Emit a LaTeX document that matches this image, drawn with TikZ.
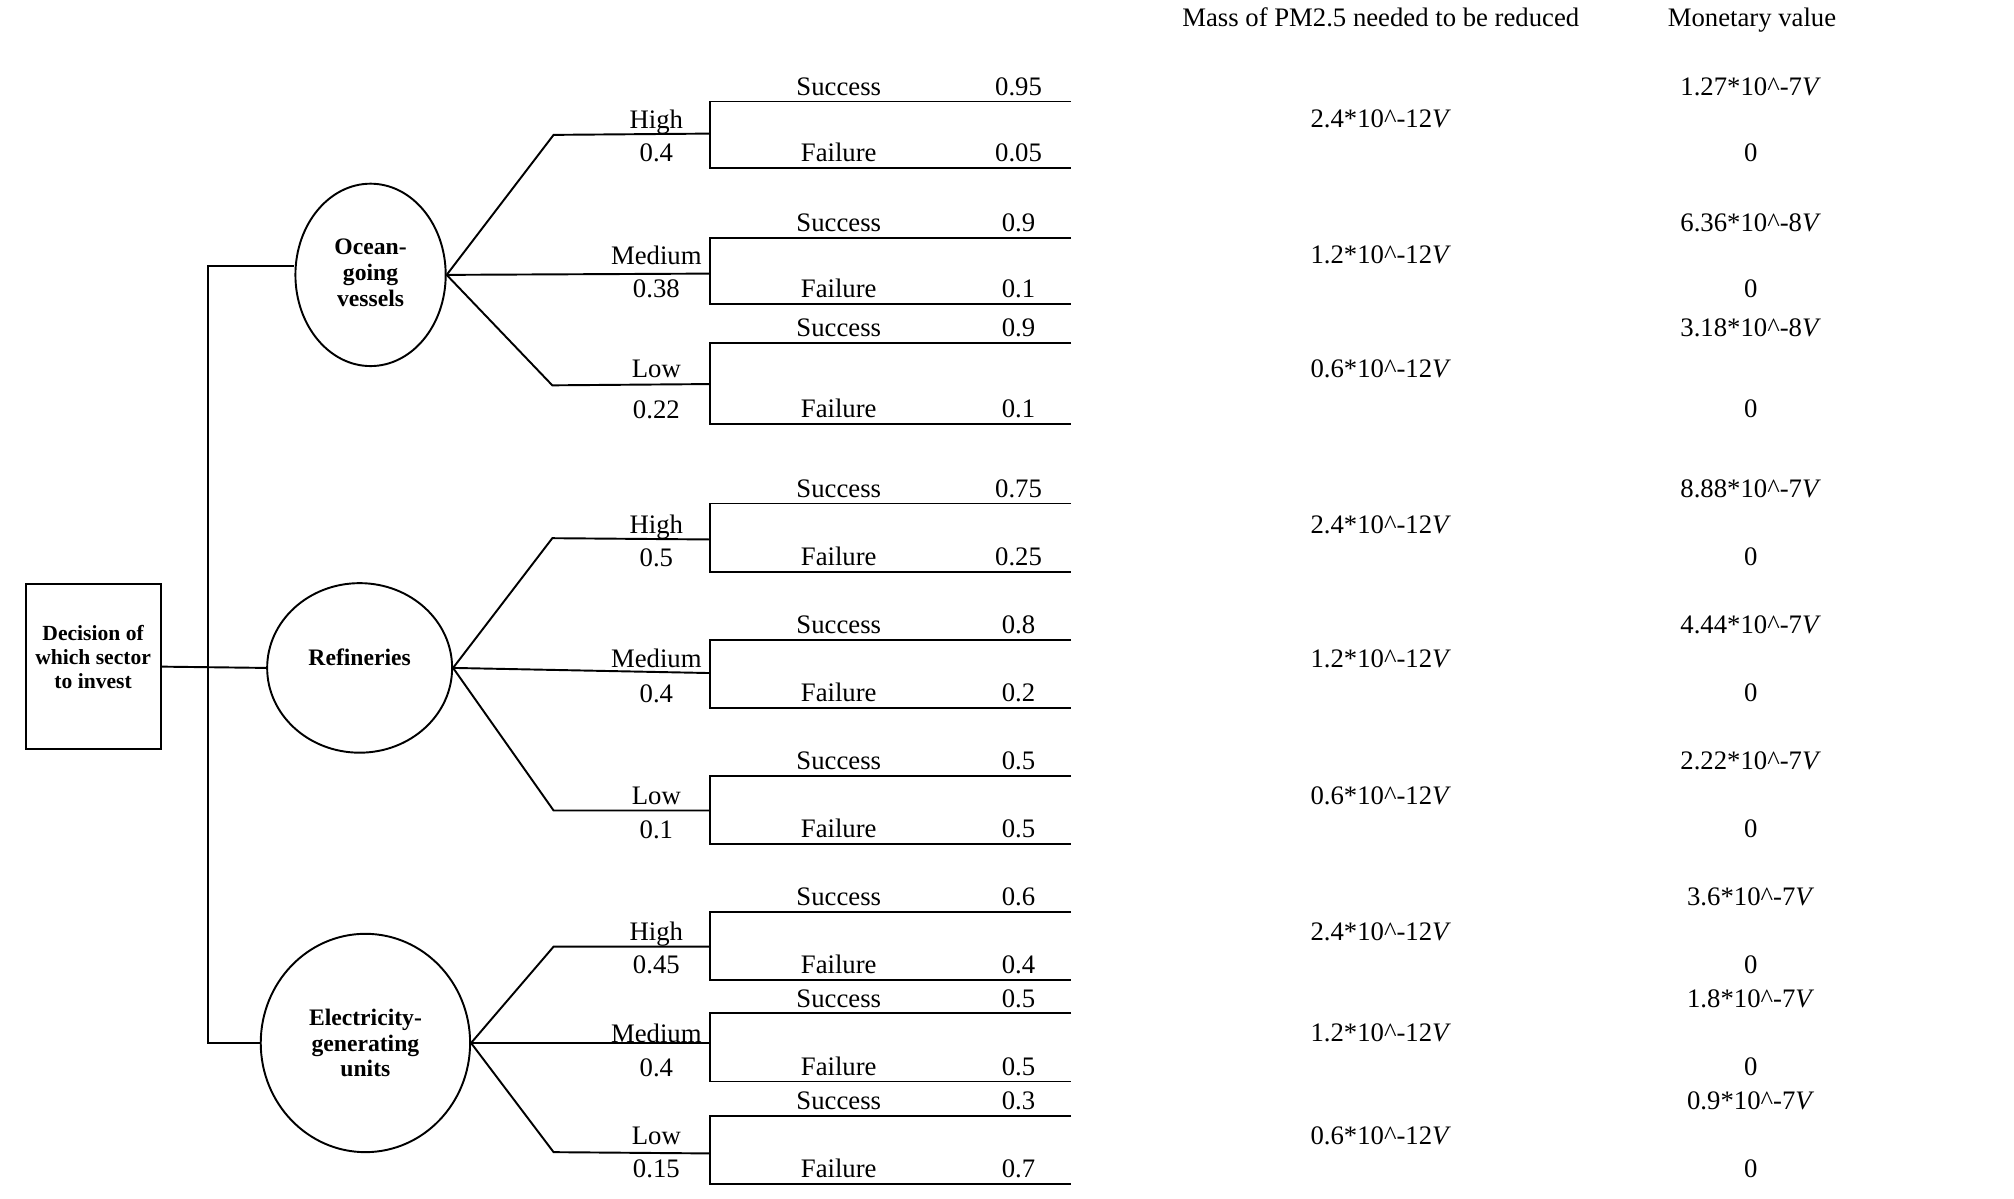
\documentclass[tikz,border=0pt]{standalone}
\usepackage{fontspec}
\setmainfont{Liberation Serif}
\usetikzlibrary{shapes.geometric}
\begin{document}
\begin{tikzpicture}[x=0.5pt,y=-0.5pt,line width=0.75pt,
  txt/.style={font=\fontsize{10.4}{12}\selectfont,inner sep=0pt,anchor=base},
  sector/.style={draw,ellipse,inner sep=0pt},
  sectortext/.style={font=\fontsize{9.2}{10}\selectfont\bfseries,align=center,inner sep=0pt},
  decision/.style={draw,rectangle,inner sep=0pt,minimum width=52.5pt,minimum height=64pt}]
\useasboundingbox (0,0) rectangle (1568,932.7);

% decision box
\node[decision] (box) at (72.5,519) {};
\node[font=\fontsize{8.4}{9.25}\selectfont\bfseries,align=center,inner sep=0pt] (boxtext) at (72.5,511.5) {Decision of\\which sector\\to invest};

% sector chance nodes
\node[sector,minimum width=58.5pt,minimum height=71pt] (O) at (288.5,214) {};
\node[sectortext] (Otext) at (288.5,212.5) {Ocean-\\going\\vessels};
\node[sector,minimum width=72pt,minimum height=66pt] (R) at (280,520) {};
\node[sectortext] (Rtext) at (280,512) {Refineries};
\node[sector,minimum width=81.5pt,minimum height=85pt] (E) at (284.5,812) {};
\node[sectortext] (Etext) at (284.5,812) {Electricity-\\generating\\units};

% connectors from the decision
\coordinate (jO) at (162,207);
\coordinate (jE) at (162,812);
\draw (box.east) -- (R.west);
\draw (jO -| O.west) -- (jO) -- (jE) -- (E.west);

% headers
\node[txt] (hmass) at (1075,21) {Mass of PM2.5 needed to be reduced};
\node[txt] (hmon) at (1364,21) {Monetary value};

% branches
\foreach \vn/\vsrc/\vx/\vy/\vc/\vlab/\vly/\vp/\vpy/\vs/\vsv/\vf/\vfv/\vmy/\vms/\vmm/\vme in {
  1/O/431/105/104/High/93/0.4/119/79/0.95/131/0.05/92/2.4/1.27/7,
  2/O/553/213/213/Medium/199/0.38/225/185/0.9/237/0.1/198/1.2/6.36/8,
  3/O/430/300/299/Low/287/0.22/319/267/0.9/330/0.1/287/0.6/3.18/8,
  4/R/430/419/420/High/408/0.5/434/392/0.75/445/0.25/408/2.4/8.88/7,
  5/R/553/524/524/Medium/513/0.4/540/498/0.8/551/0.2/513/1.2/4.44/7,
  6/R/431/631/631/Low/619/0.1/646/604/0.5/657/0.5/619/0.6/2.22/7,
  7/E/431/737/737/High/725/0.45/751/710/0.6/763/0.4/725/2.4/3.6/7,
  8/E/553/812/812/Medium/805/0.4/831/789/0.5/842/0.5/804/1.2/1.8/7,
  9/E/431/897/898/Low/884/0.15/910/869/0.3/922/0.7/884/0.6/0.9/7}{
  \coordinate (k\vn) at (\vx,\vy);
  \coordinate (c\vn) at (553,\vc);
  \coordinate (s\vn) at (553,\vs);
  \coordinate (S\vn) at (834,\vs);
  \coordinate (f\vn) at (553,\vf);
  \coordinate (F\vn) at (834,\vf);
  \draw (\vsrc.east) -- (k\vn) -- (c\vn);
  \draw (S\vn) -- (s\vn) -- (f\vn) -- (F\vn);
  \node[txt] (lab\vn) at (511,{\vly+7}) {\vlab};
  \node[txt] (p\vn) at (511,{\vpy+7}) {\vp};
  \node[txt] (st\vn) at (653,{\vs-5}) {Success};
  \node[txt] (sv\vn) at (793,{\vs-5}) {\vsv};
  \node[txt] (ft\vn) at (653,{\vf-5}) {Failure};
  \node[txt] (fv\vn) at (793,{\vf-5}) {\vfv};
  \node[txt] (m\vn) at (1075,{\vmy+7}) {\vms*10\textasciicircum-12\textit{V}};
  \node[txt] (v\vn) at (1363,{\vs-5}) {\vmm*10\textasciicircum-\vme\textit{V}};
  \node[txt] (z\vn) at (1363,{\vf-5}) {0};
}
\end{tikzpicture}
\end{document}
